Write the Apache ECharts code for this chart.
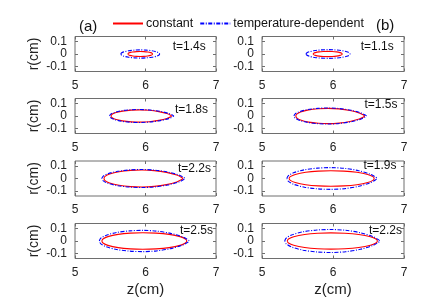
<!DOCTYPE html>
<html>
<head>
<meta charset="utf-8">
<script src="https://cdn.jsdelivr.net/npm/echarts@6/dist/echarts.min.js"></script>
<style>html,body{margin:0;padding:0;background:#fff}#c{width:429px;height:307px}</style>
</head>
<body>
<div id="c"></div>
<script>
// Panel order: (a) rows 1-4, then (b) rows 1-4
const timeLabels = ['t=1.4s', 't=1.8s', 't=2.2s', 't=2.5s', 't=1.1s', 't=1.5s', 't=1.9s', 't=2.2s'];
const panelTags = ['(a)', '(b)'];
const xTicks = [5, 6, 7];
const yTicks = [-0.1, 0, 0.1];

// upper contour z (cm) of the "constant" case
const constZ = [
  [5.75, 5.755, 5.776, 5.82, 5.873, 5.925, 5.978, 6.03, 6.074, 6.095, 6.10],
  [5.51, 5.522, 5.571, 5.674, 5.797, 5.92, 6.055, 6.19, 6.303, 6.357, 6.37],
  [5.41, 5.426, 5.491, 5.626, 5.788, 5.95, 6.124, 6.298, 6.443, 6.513, 6.53],
  [5.38, 5.397, 5.467, 5.612, 5.786, 5.96, 6.148, 6.335, 6.491, 6.566, 6.585],
  [5.72, 5.726, 5.751, 5.802, 5.864, 5.925, 5.987, 6.048, 6.099, 6.124, 6.13],
  [5.475, 5.489, 5.543, 5.657, 5.794, 5.93, 6.085, 6.239, 6.368, 6.43, 6.445],
  [5.38, 5.398, 5.469, 5.616, 5.793, 5.97, 6.153, 6.336, 6.489, 6.562, 6.58],
  [5.355, 5.373, 5.447, 5.601, 5.786, 5.97, 6.167, 6.363, 6.527, 6.605, 6.625]
];
// upper contour r (cm) of the "constant" case
const constR = [
  [0, .005, .011, .016, .019, .02, .019, .016, .011, .005, 0],
  [0, .012, .026, .039, .047, .049, .046, .035, .020, .006, 0],
  [0, .0165, .0358, .0544, .0649, .068, .0632, .049, .0272, .0082, 0],
  [0, .016, .0348, .0528, .063, .066, .063, .0528, .0348, .016, 0],
  [0, .005, .011, .017, .02, .021, .02, .017, .011, .005, 0],
  [0, .0148, .032, .0488, .058, .061, .0567, .0439, .0244, .0073, 0],
  [0, .015, .0327, .0496, .0591, .062, .0591, .0496, .0327, .015, 0],
  [0, .0158, .0343, .052, .062, .065, .062, .052, .0343, .0158, 0]
];
// upper contour z (cm) of the "temperature-dependent" case
const tempZ = [
  [5.65, 5.658, 5.691, 5.76, 5.843, 5.925, 6.008, 6.09, 6.159, 6.192, 6.20],
  [5.49, 5.503, 5.555, 5.662, 5.791, 5.92, 6.064, 6.208, 6.328, 6.386, 6.40],
  [5.38, 5.397, 5.466, 5.608, 5.779, 5.95, 6.133, 6.316, 6.469, 6.542, 6.56],
  [5.345, 5.363, 5.437, 5.591, 5.776, 5.96, 6.158, 6.356, 6.521, 6.6, 6.62],
  [5.62, 5.629, 5.667, 5.744, 5.837, 5.93, 6.023, 6.116, 6.194, 6.231, 6.24],
  [5.45, 5.464, 5.522, 5.642, 5.786, 5.93, 6.092, 6.254, 6.389, 6.454, 6.47],
  [5.35, 5.369, 5.443, 5.598, 5.784, 5.97, 6.165, 6.36, 6.523, 6.601, 6.62],
  [5.32, 5.34, 5.418, 5.58, 5.775, 5.97, 6.177, 6.384, 6.557, 6.639, 6.66]
];
// upper contour r (cm) of the "temperature-dependent" case
const tempR = [
  [0, .008, .017, .026, .031, .033, .031, .026, .017, .008, 0],
  [0, .0126, .027, .042, .050, .052, .048, .037, .021, .006, 0],
  [0, .0175, .038, .0576, .0687, .072, .067, .0518, .0288, .0086, 0],
  [0, .0207, .0448, .068, .081, .085, .079, .0612, .034, .0102, 0],
  [0, .0085, .018, .028, .033, .035, .033, .028, .018, .0085, 0],
  [0, .0155, .0337, .0512, .061, .064, .0595, .046, .0256, .0077, 0],
  [0, .021, .0458, .0696, .083, .087, .081, .0626, .0348, .0104, 0],
  [0, .0224, .0485, .0736, .0878, .092, .0856, .0662, .0368, .011, 0]
];

const FONT = "'Liberation Sans', Arial, sans-serif";
const rowTops = [36.5, 98.5, 161, 223.5];
const colLeft = [75, 262];
const colWidth = [141, 142];
const tLabelPos = [[172.7, 48], [175, 111], [178, 170], [180, 231.5], [360.7, 48], [364.5, 105.5], [363.5, 166.5], [369, 231.5]];

function closed(zs, rs) {
  const pts = [];
  for (let i = 0; i < zs.length; i++) pts.push([zs[i], rs[i]]);
  for (let i = zs.length - 2; i >= 0; i--) pts.push([zs[i], -rs[i]]);
  return pts;
}

const grids = [], xAxes = [], yAxes = [], series = [], graphics = [];
const axisColor = '#6e6e6e';
const labelColor = '#222';
for (let p = 0; p < 8; p++) {
  const col = p < 4 ? 0 : 1, row = p % 4;
  grids.push({ left: colLeft[col], top: rowTops[row], width: colWidth[col], height: 35,
    show: true, borderColor: axisColor, borderWidth: 1, backgroundColor: '#fff' });
  const xBase = { type: 'value', gridIndex: p, min: 5, max: 7, interval: 1,
    axisLine: { show: false, onZero: false }, splitLine: { show: false },
    axisTick: { inside: true, length: 3, lineStyle: { color: axisColor } } };
  xAxes.push(Object.assign({}, xBase, { position: 'bottom',
    axisLabel: { margin: 8, fontSize: 12, color: labelColor, fontFamily: FONT },
    name: row === 3 ? 'z(cm)' : '', nameLocation: 'middle', nameGap: 24,
    nameTextStyle: { fontSize: 15, color: labelColor, fontFamily: FONT } }));
  xAxes.push(Object.assign({}, xBase, { position: 'top', axisLabel: { show: false } }));
  const yBase = { type: 'value', gridIndex: p, min: -0.14, max: 0.14,
    axisLine: { show: false, onZero: false }, splitLine: { show: false } };
  yAxes.push(Object.assign({}, yBase, { position: 'left',
    axisTick: { inside: true, length: 3, customValues: yTicks, lineStyle: { color: axisColor } },
    axisLabel: { customValues: yTicks, margin: 8, fontSize: 12, color: labelColor, fontFamily: FONT,
      formatter: v => (Math.abs(v) < 1e-9 ? '0' : String(Math.round(v * 10) / 10)) },
    name: col === 0 ? 'r(cm)' : '', nameLocation: 'middle', nameGap: 34, nameRotate: 90,
    nameTextStyle: { fontSize: 14, color: labelColor, fontFamily: FONT } }));
  yAxes.push(Object.assign({}, yBase, { position: 'right',
    axisTick: { inside: true, length: 3, customValues: yTicks, lineStyle: { color: axisColor } },
    axisLabel: { show: false } }));
  series.push({ name: 'constant', type: 'line', xAxisIndex: 2 * p, yAxisIndex: 2 * p,
    data: closed(constZ[p], constR[p]), symbol: 'none', smooth: 0.3,
    lineStyle: { color: '#ff0000', width: 1.1 }, itemStyle: { color: '#ff0000' }, animation: false });
  series.push({ name: 'temperature-dependent', type: 'line', xAxisIndex: 2 * p, yAxisIndex: 2 * p,
    data: closed(tempZ[p], tempR[p]), symbol: 'none', smooth: 0.3,
    lineStyle: { color: '#0000ff', width: 1.1, type: [4, 1.5, 1, 1.5] }, itemStyle: { color: '#0000ff' }, animation: false });
  graphics.push({ type: 'text', left: tLabelPos[p][0], top: tLabelPos[p][1] - 7,
    style: { text: timeLabels[p], fill: '#111', font: "12px 'Liberation Sans', Arial" } });
}
graphics.push({ type: 'text', left: 79, top: 19, style: { text: panelTags[0], fill: '#111', font: "15px 'Liberation Sans', Arial" } });
graphics.push({ type: 'text', left: 376, top: 18, style: { text: panelTags[1], fill: '#111', font: "15px 'Liberation Sans', Arial" } });

const chart = echarts.init(document.getElementById('c'), null, { renderer: 'canvas' });
chart.setOption({
  animation: false,
  backgroundColor: '#fff',
  legend: { data: ['constant', 'temperature-dependent'], left: 112, top: 17, padding: 0, itemWidth: 30, itemHeight: 14,
    itemGap: 6, itemStyle: { opacity: 0 },
    textStyle: { fontSize: 12.5, color: '#111', fontFamily: FONT, padding: [0, 0, 0, -2] } },
  grid: grids, xAxis: xAxes, yAxis: yAxes, series: series, graphic: graphics
});
</script>
</body>
</html>
